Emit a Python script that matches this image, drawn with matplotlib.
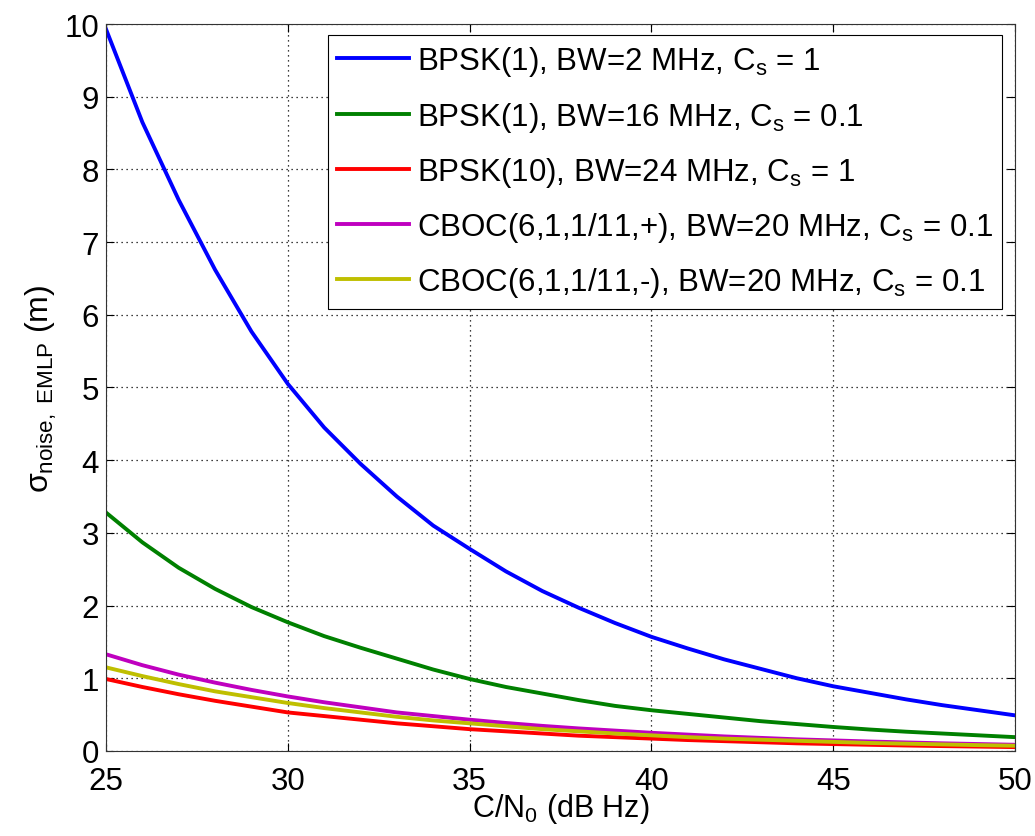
import matplotlib

matplotlib.use("Agg")

import matplotlib.pyplot as plt

plt.rcParams["font.family"] = ["Liberation Sans", "DejaVu Sans"]
plt.rcParams["mathtext.fontset"] = "custom"
plt.rcParams["mathtext.rm"] = "Liberation Sans"
plt.rcParams["mathtext.it"] = "Liberation Sans"
plt.rcParams["mathtext.bf"] = "Liberation Sans:bold"

# C/N0 in dB Hz
cn0 = [25, 26, 27, 28, 29, 30, 31, 32, 33, 34, 35, 36, 37,
       38, 39, 40, 41, 42, 43, 44, 45, 46, 47, 48, 49, 50]

bpsk1_bw2 = [9.93, 8.65, 7.58, 6.62, 5.77, 5.05, 4.45, 3.95, 3.50, 3.10, 2.78, 2.47, 2.20,
             1.97, 1.76, 1.57, 1.41, 1.26, 1.13, 1.00, 0.89, 0.80, 0.71, 0.63, 0.56, 0.49]
bpsk1_bw16 = [3.28, 2.87, 2.52, 2.23, 1.98, 1.77, 1.58, 1.42, 1.27, 1.12, 0.99, 0.88, 0.79,
              0.70, 0.62, 0.56, 0.51, 0.46, 0.41, 0.37, 0.33, 0.295, 0.265, 0.24, 0.215, 0.19]
bpsk10_bw24 = [0.99, 0.88, 0.78, 0.69, 0.61, 0.53, 0.48, 0.43, 0.38, 0.34, 0.30, 0.27, 0.24,
               0.21, 0.19, 0.17, 0.15, 0.135, 0.12, 0.105, 0.095, 0.085, 0.075, 0.067, 0.06, 0.053]
cboc_plus = [1.33, 1.18, 1.05, 0.94, 0.84, 0.75, 0.67, 0.60, 0.53, 0.48, 0.43, 0.385, 0.345,
             0.31, 0.28, 0.25, 0.225, 0.20, 0.18, 0.16, 0.145, 0.13, 0.117, 0.105, 0.095, 0.085]
cboc_minus = [1.15, 1.03, 0.92, 0.82, 0.74, 0.66, 0.59, 0.53, 0.47, 0.42, 0.38, 0.34, 0.30,
              0.27, 0.24, 0.215, 0.19, 0.17, 0.155, 0.14, 0.125, 0.11, 0.10, 0.09, 0.08, 0.072]

SERIES = [
    (bpsk1_bw2, "#0000ff", r"BPSK(1), BW=2 MHz, C$_\mathrm{s}$ = 1"),
    (bpsk1_bw16, "#008000", r"BPSK(1), BW=16 MHz, C$_\mathrm{s}$ = 0.1"),
    (bpsk10_bw24, "#ff0000", r"BPSK(10), BW=24 MHz, C$_\mathrm{s}$ = 1"),
    (cboc_plus, "#bf00bf", r"CBOC(6,1,1/11,+), BW=20 MHz, C$_\mathrm{s}$ = 0.1"),
    (cboc_minus, "#bfbf00", r"CBOC(6,1,1/11,-), BW=20 MHz, C$_\mathrm{s}$ = 0.1"),
]

fig = plt.figure(figsize=(10.35, 8.37), dpi=100)
ax = fig.add_axes([0.1024, 0.1016, 0.8783, 0.8685])

for values, color, label in SERIES:
    ax.plot(cn0, values, color=color, linewidth=2.8, label=label)

ax.set_xlim(25, 50)
ax.set_ylim(0, 10)
ax.set_xticks(range(25, 51, 5))
ax.set_yticks(range(0, 11))
ax.grid(True, color="black", linestyle=(0, (1, 3)), linewidth=0.9)
ax.tick_params(direction="in", length=6, width=0.8, labelsize=22.5, top=True, right=True, pad=5)
ax.tick_params(axis="x", pad=11)
for spine in ax.spines.values():
    spine.set_linewidth(0.8)
    spine.set_color("#333333")

ax.set_xlabel(r"C/N$_0$ (dB Hz)", fontsize=22, labelpad=-4)
ax.set_ylabel(r"$\sigma_{\mathrm{noise,\ EMLP}}$ (m)", fontsize=23, labelpad=4)

legend = ax.legend(
    loc="upper right",
    bbox_to_anchor=(0.986, 0.985),
    fontsize=22.5,
    handlelength=2.3,
    handletextpad=0.25,
    labelspacing=0.68,
    borderpad=0.3,
    borderaxespad=0.0,
    fancybox=False,
    framealpha=1,
    edgecolor="black",
)
legend.get_frame().set_linewidth(0.8)

fig.savefig("out.png", dpi=100, facecolor="white")
